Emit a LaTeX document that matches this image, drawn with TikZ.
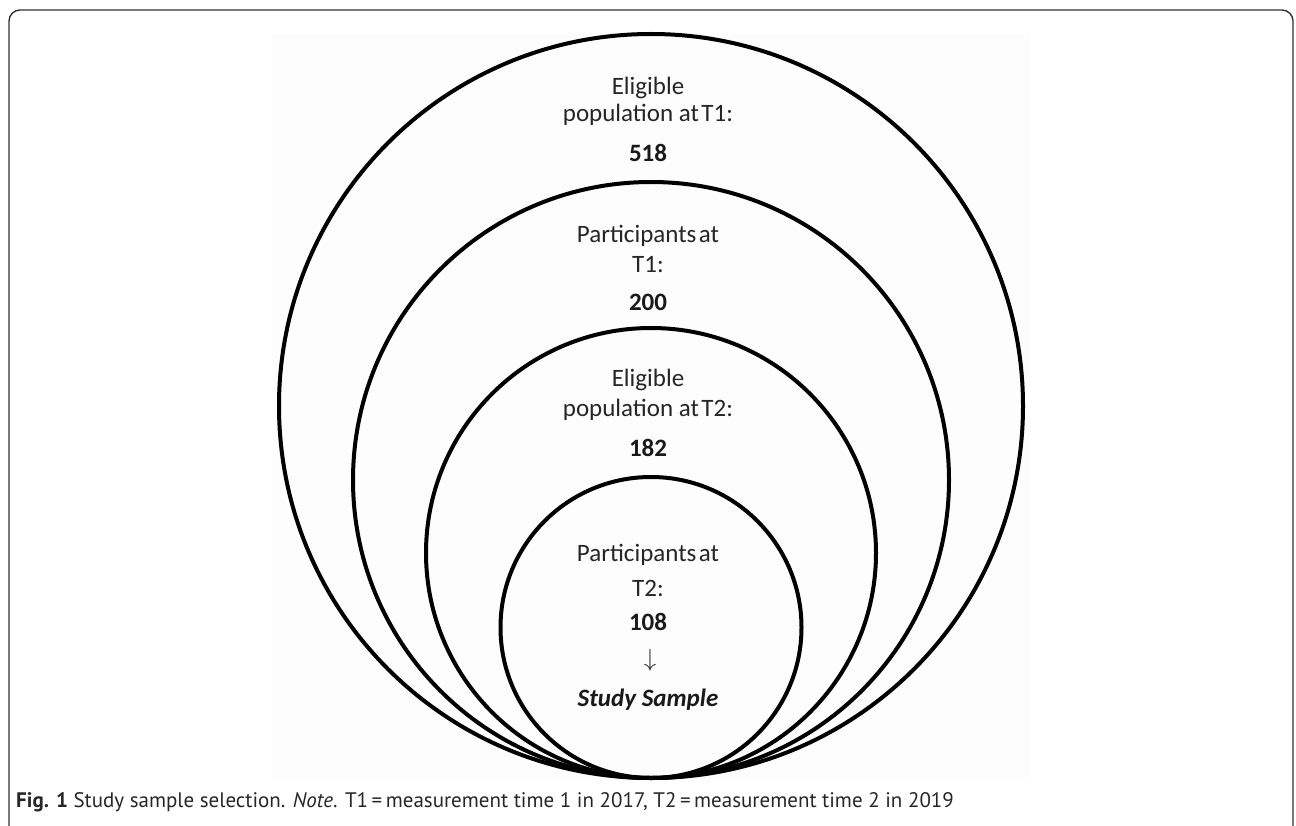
\documentclass[tikz,border=0pt]{standalone}
\usepackage{fontspec}
\setmainfont{Carlito}
\newfontfamily\capfont{PT Sans}
\begin{document}
\begin{tikzpicture}[x=1pt,y=-1pt,
  ring/.style={draw=black,line width=4pt},
  lbl/.style={font=\fontsize{25}{28}\selectfont,text=black!85,align=center,inner sep=0pt},
  num/.style={font=\fontsize{25}{28}\selectfont\bfseries,text=black!90,inner sep=0pt},
  frame/.style={draw=black!80,line width=1.4pt,rounded corners=11pt}]
\useasboundingbox (0,0) rectangle (1296,826);
\clip (0,0) rectangle (1296,826);
\draw[frame] (9,10) rectangle (1293,840);
\fill[black!0.6] (272,33) rectangle (1030,780);
% circles tangent at bottom (651,778)
\coordinate (tan) at (651,778);
\draw[ring] (651,406) circle[radius=372];
\draw[ring] (651,480) circle[radius=298];
\draw[ring] (651,553) circle[radius=225];
\draw[ring] (651,627.5) circle[radius=150.5];
% texts
\node[lbl] (e1a) at (648,88) {Eligible};
\node[lbl] (e1b) at (648,115) {population at\hspace{0.1em}T1:};
\node[num] (n1) at (648,153) {518};
\node[lbl] (p1a) at (648,236) {Participants\hspace{0.1em}at};
\node[lbl] (p1b) at (648,265) {T1:};
\node[num] (n2) at (648,302) {200};
\node[lbl] (e2a) at (648,380) {Eligible};
\node[lbl] (e2b) at (648,410) {population at\hspace{0.1em}T2:};
\node[num] (n3) at (648,448) {182};
\node[lbl] (p2a) at (648,555) {Participants\hspace{0.1em}at};
\node[lbl] (p2b) at (648,588) {T2:};
\node[num] (n4) at (648,622) {108};
\node[lbl] (arr) at (650,660) {$\downarrow$};
\node[num,font=\fontsize{25}{28}\selectfont\bfseries\itshape] (ss) at (648,700) {Study Sample};
% caption
\node[anchor=west,inner sep=0pt,font=\capfont\fontsize{21}{24}\selectfont,text=black!85] (cap) at (16,802)
 {\textbf{Fig. 1} Study sample selection. \textit{Note}. T1\,=\,measurement time 1 in 2017, T2\,=\,measurement time 2 in 2019};
\end{tikzpicture}
\end{document}
